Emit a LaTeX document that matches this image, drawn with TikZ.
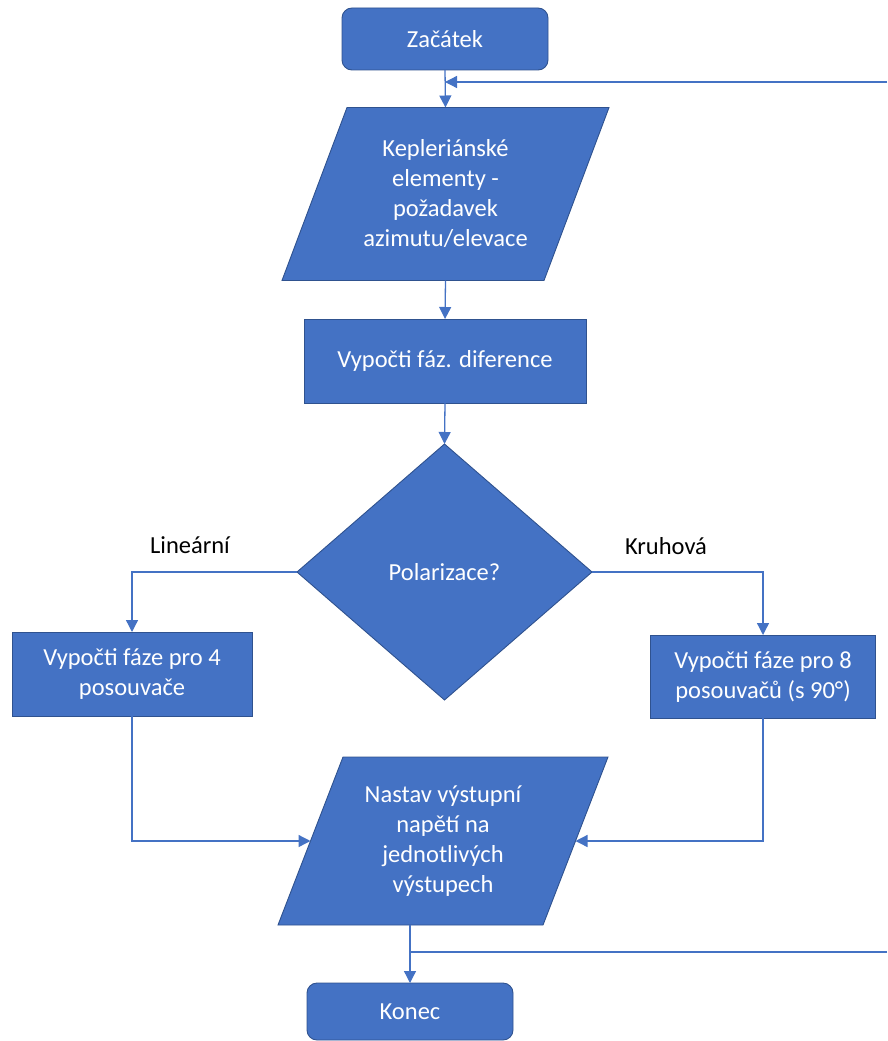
\documentclass[tikz,border=0pt]{standalone}
\usepackage{fontspec}
\setmainfont{Carlito}
\usetikzlibrary{shapes.geometric, arrows.meta, calc, backgrounds}
\definecolor{boxblue}{HTML}{4472C4}
\definecolor{boxedge}{HTML}{2F528F}

\begin{document}
\begin{tikzpicture}[x=1pt, y=-1pt,
  every node/.style={font=\fontsize{24.5}{30}\selectfont, align=center, outer sep=0pt},
  blk/.style={draw=boxedge, line width=0.9pt, fill=boxblue, text=white},
  term/.style={blk, rectangle, rounded corners=10pt, minimum width=206pt},
  proc/.style={blk, rectangle},
  io/.style={rectangle, text=white},
  decision/.style={blk, diamond, minimum width=295pt, minimum height=256pt, inner sep=0pt},
  flow/.style={draw=boxblue, line width=1.3pt},
  arr/.style={flow, -{Triangle[length=12pt, width=12pt]}},
]
\useasboundingbox (0,0) rectangle (887,1041);
% Start
\node[term, minimum height=62pt] (start) at (445,39) {Začátek};
% Input of elements
\node[io, minimum width=262pt, minimum height=173pt] (kepler) at (445.5,194)
  {Kepleriánské\\ elementy -\\ požadavek\\ azimutu/elevace};
% Phase differences
\node[proc, minimum width=282pt, minimum height=84pt] (diff) at (445,361) {Vypočti fáz. diference};
% Decision
\node[decision] (polar) at (444.5,572) {Polarizace?};
\node (linlabel) at (190,545) {Lineární};
\node (circlabel) at (666,546) {Kruhová};
% Branches
\node[proc, minimum width=240pt, minimum height=84pt] (lin) at (132,674) {Vypočti fáze pro 4\\ posouvače};
\node[proc, minimum width=225pt, minimum height=83pt] (circ) at (763,676.5) {Vypočti fáze pro 8\\ posouvačů (s 90°)};
% Output
\node[io, minimum width=265pt, minimum height=168pt] (out) at (443,841)
  {Nastav výstupní\\ napětí na\\ jednotlivých\\ výstupech};
% End
\node[term, minimum height=57pt] (konec) at (410,1011.5) {Konec};
% Parallelograms behind the texts
\begin{scope}[on background layer]
\draw[blk] ($(kepler.south west)+(-32.5,0)$) -- ($(kepler.north west)+(32.5,0)$)
  -- ($(kepler.north east)+(32.5,0)$) -- ($(kepler.south east)+(-32.5,0)$) -- cycle;
\draw[blk] ($(out.south west)+(-32.5,0)$) -- ($(out.north west)+(32.5,0)$)
  -- ($(out.north east)+(32.5,0)$) -- ($(out.south east)+(-32.5,0)$) -- cycle;
\end{scope}
% Loop ends
\coordinate (loopin) at (887,82);
\coordinate (loopout) at (887,952);
% Connectors
\draw[arr] (start.south) -- (kepler.north);
\draw[arr] (loopin) -- (loopin -| start.south);
\draw[arr] (kepler.south) -- (diff.north);
\draw[arr] (diff.south) -- (polar.north);
\draw[arr] (polar.west) -| (lin.north);
\draw[arr] (polar.east) -| (circ.north);
\draw[arr] (lin.south) |- (out.west);
\draw[arr] (circ.south) |- (out.east);
\draw[arr] (out.south -| konec.north) -- (konec.north);
\draw[flow] (loopout) -- (loopout -| konec.north);
\end{tikzpicture}
\end{document}
